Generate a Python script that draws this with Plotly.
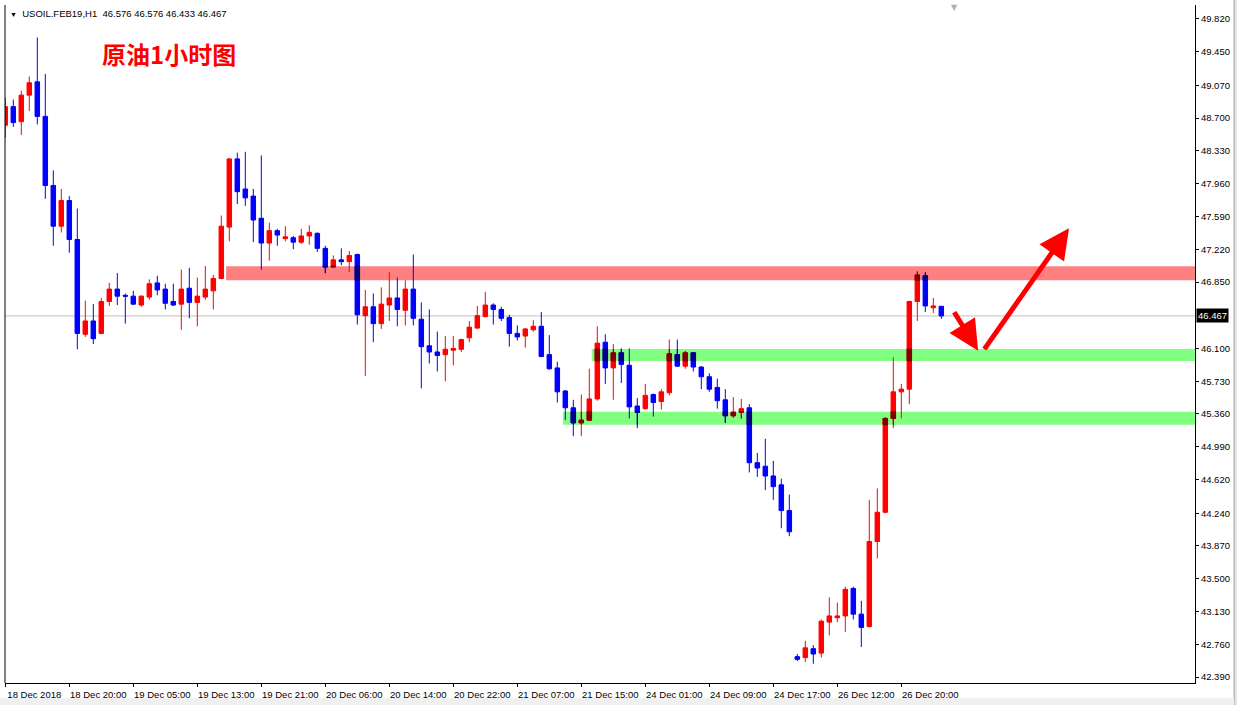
import plotly.graph_objects as go

# ---------------- data ----------------
bars = list(range(118))

opens = [48.62, 48.83, 48.66, 48.96, 49.11, 48.72, 47.94, 47.48, 47.77, 47.33,
         46.26, 46.41, 46.27, 46.63, 46.77, 46.70, 46.69, 46.59, 46.68, 46.84,
         46.77, 46.63, 46.60, 46.78, 46.62, 46.68, 46.75, 46.89, 47.47, 48.24,
         47.90, 47.82, 47.57, 47.29, 47.43, 47.34, 47.35, 47.30, 47.37, 47.40,
         47.23, 47.02, 47.10, 47.08, 47.16, 46.47, 46.57, 46.38, 46.59, 46.67,
         46.53, 46.77, 46.43, 46.13, 46.06, 46.03, 46.08, 46.09, 46.22, 46.33,
         46.46, 46.59, 46.54, 46.45, 46.27, 46.24, 46.31, 46.35, 46.03, 45.88,
         45.62, 45.43, 45.26, 45.29, 45.53, 46.17, 45.88, 46.05, 45.91, 45.45,
         45.42, 45.58, 45.50, 45.60, 46.03, 45.90, 46.05, 45.89, 45.78, 45.66,
         45.52, 45.34, 45.38, 45.43, 44.81, 44.77, 44.66, 44.56, 44.27, 42.62,
         42.61, 42.71, 42.66, 43.01, 43.06, 43.08, 43.39, 43.10, 42.96, 43.92,
         44.25, 45.31, 45.61, 45.64, 46.63, 46.92, 46.56, 46.576]

highs = [48.93, 48.91, 49.01, 49.17, 49.61, 49.20, 48.11, 47.90, 47.82, 47.68,
         46.64, 46.60, 46.67, 46.84, 46.95, 46.72, 46.75, 46.70, 46.88, 46.92,
         46.83, 46.83, 46.99, 47.01, 46.90, 47.03, 46.93, 47.60, 48.25, 48.31,
         48.32, 47.90, 48.28, 47.52, 47.45, 47.48, 47.37, 47.45, 47.49, 47.41,
         47.26, 47.15, 47.23, 47.20, 47.17, 46.76, 46.72, 46.79, 46.96, 46.90,
         46.87, 47.16, 46.62, 46.54, 46.29, 46.24, 46.24, 46.21, 46.41, 46.58,
         46.74, 46.61, 46.57, 46.48, 46.36, 46.33, 46.42, 46.51, 46.25, 45.95,
         45.63, 45.52, 45.58, 45.87, 46.35, 46.26, 46.15, 46.10, 46.10, 45.54,
         45.70, 45.59, 45.64, 46.20, 46.20, 46.07, 46.06, 45.90, 45.82, 45.76,
         45.64, 45.55, 45.53, 45.47, 44.92, 45.08, 44.83, 44.63, 44.45, 42.65,
         42.80, 42.75, 43.04, 43.29, 43.23, 43.41, 43.41, 43.25, 44.39, 44.52,
         45.32, 46.00, 45.70, 46.64, 46.97, 46.96, 46.67, 46.576]

lows = [48.48, 48.60, 48.51, 48.78, 48.63, 47.79, 47.26, 47.41, 47.18, 46.09,
        46.23, 46.15, 46.26, 46.58, 46.59, 46.38, 46.59, 46.57, 46.65, 46.70,
        46.54, 46.58, 46.31, 46.44, 46.35, 46.65, 46.54, 46.88, 47.31, 47.73,
        47.71, 47.30, 46.99, 47.09, 47.26, 47.31, 47.22, 47.28, 47.27, 47.19,
        46.95, 47.01, 47.04, 46.96, 46.37, 45.79, 46.17, 46.32, 46.41, 46.35,
        46.36, 46.36, 45.65, 45.93, 45.84, 45.73, 45.91, 46.06, 46.17, 46.32,
        46.45, 46.37, 46.41, 46.12, 46.19, 46.11, 46.29, 46.00, 45.86, 45.49,
        45.29, 45.11, 45.11, 45.28, 45.51, 45.70, 45.52, 45.71, 45.31, 45.20,
        45.41, 45.33, 45.41, 45.57, 45.89, 45.87, 45.84, 45.64, 45.61, 45.42,
        45.26, 45.32, 45.31, 44.70, 44.65, 44.50, 44.39, 44.07, 43.98, 42.57,
        42.56, 42.54, 42.61, 42.86, 43.01, 42.90, 43.04, 42.73, 42.95, 43.73,
        44.24, 45.20, 45.31, 45.47, 46.41, 46.51, 46.50, 46.433]

closes = [48.83, 48.65, 48.96, 49.10, 48.72, 47.94, 47.48, 47.77, 47.33, 46.27,
          46.41, 46.21, 46.63, 46.77, 46.69, 46.69, 46.60, 46.69, 46.83, 46.76,
          46.61, 46.59, 46.77, 46.62, 46.69, 46.77, 46.89, 47.48, 48.24, 47.87,
          47.80, 47.55, 47.29, 47.43, 47.38, 47.36, 47.30, 47.37, 47.41, 47.23,
          47.02, 47.10, 47.08, 47.15, 46.48, 46.57, 46.38, 46.60, 46.67, 46.54,
          46.77, 46.44, 46.12, 46.06, 46.02, 46.09, 46.10, 46.20, 46.34, 46.47,
          46.59, 46.54, 46.44, 46.27, 46.23, 46.32, 46.35, 46.01, 45.87, 45.61,
          45.43, 45.26, 45.29, 45.53, 46.16, 45.88, 46.05, 45.92, 45.44, 45.38,
          45.57, 45.49, 45.61, 46.04, 45.90, 46.05, 45.89, 45.78, 45.64, 45.51,
          45.34, 45.38, 45.42, 44.81, 44.75, 44.66, 44.54, 44.27, 44.03, 42.59,
          42.72, 42.65, 43.02, 43.08, 43.08, 43.38, 43.10, 42.95, 43.92, 44.25,
          45.31, 45.61, 45.64, 46.63, 46.93, 46.58, 46.58, 46.467]

x_tick_bars = [0, 8, 16, 24, 32, 40, 48, 56, 64, 72, 80, 88, 96, 104, 112]
x_tick_labels = ["18 Dec 2018", "18 Dec 20:00", "19 Dec 05:00", "19 Dec 13:00",
                 "19 Dec 21:00", "20 Dec 06:00", "20 Dec 14:00", "20 Dec 22:00",
                 "21 Dec 07:00", "21 Dec 15:00", "24 Dec 01:00", "24 Dec 09:00",
                 "24 Dec 17:00", "26 Dec 12:00", "26 Dec 20:00"]

price_ticks = [49.82, 49.45, 49.07, 48.70, 48.33, 47.96, 47.59, 47.22, 46.85,
               46.10, 45.73, 45.36, 44.99, 44.62, 44.24, 43.87, 43.50, 43.13,
               42.76, 42.39]

symbol = "USOIL.FEB19,H1"
header_ohlc = [46.576, 46.576, 46.433, 46.467]
last_price = 46.467

# zone price bands (low, high) and the bar where each starts
zone_lows = [46.871, 45.959, 45.238]
zone_highs = [47.028, 46.094, 45.385]
zone_start_bars = [27.6, 73.3, 69.7]
zone_colors = ["rgb(255,128,128)", "rgb(128,255,128)", "rgb(128,255,128)"]

title_text = "原油1小时图"

# ---------------- figure ----------------
X_MIN, X_MAX = -0.0375, 148.71
Y_MIN, Y_MAX = 42.3226, 49.9776

fig = go.Figure()

fig.add_trace(go.Candlestick(
    x=bars, open=opens, high=highs, low=lows, close=closes,
    increasing=dict(line=dict(color="#FF0000", width=1), fillcolor="#FF0000"),
    decreasing=dict(line=dict(color="#0000FF", width=1), fillcolor="#0000FF"),
    whiskerwidth=0, hoverinfo="skip", showlegend=False,
))


def zone_overlay(lo, hi, start):
    xs, o, h, l, c = [], [], [], [], []
    for i in bars:
        if i < start:
            continue
        blo, bhi = min(opens[i], closes[i]), max(opens[i], closes[i])
        a, b = max(blo, lo), min(bhi, hi)
        if a < b:
            xs.append(i)
            h.append(min(highs[i], hi))
            l.append(max(lows[i], lo))
            if closes[i] >= opens[i]:
                o.append(a); c.append(b)
            else:
                o.append(b); c.append(a)
    return xs, o, h, l, c


for lo, hi, st in zip(zone_lows, zone_highs, zone_start_bars):
    xs, o, h, l, c = zone_overlay(lo, hi, st)
    if xs:
        fig.add_trace(go.Candlestick(
            x=xs, open=o, high=h, low=l, close=c,
            increasing=dict(line=dict(color="#800000", width=1), fillcolor="#800000"),
            decreasing=dict(line=dict(color="#000080", width=1), fillcolor="#000080"),
            whiskerwidth=0, hoverinfo="skip", showlegend=False,
        ))

shapes = []
# current price line
shapes.append(dict(type="line", xref="paper", yref="y", x0=0, x1=1,
                   y0=last_price, y1=last_price,
                   line=dict(color="#C0C0C0", width=1), layer="below"))
# zones
for lo, hi, st, col in zip(zone_lows, zone_highs, zone_start_bars, zone_colors):
    shapes.append(dict(type="rect", xref="x", yref="y", x0=st, x1=X_MAX,
                       y0=lo, y1=hi, fillcolor=col, line=dict(width=0),
                       layer="below"))
# left frame line
shapes.append(dict(type="line", xref="paper", yref="paper", x0=0, x1=0,
                   y0=0, y1=1, line=dict(color="#000000", width=1)))
# window edges (grey)
shapes.append(dict(type="rect", xref="paper", yref="paper", x0=1.0328, x1=1.04,
                   y0=-0.04, y1=1.01, fillcolor="#E4E4E4",
                   line=dict(color="#A0A0A0", width=1)))
shapes.append(dict(type="rect", xref="paper", yref="paper", x0=-0.01, x1=1.0328,
                   y0=-0.04, y1=-0.0221, fillcolor="#F0F0F0",
                   line=dict(width=0)))

annotations = []
# title
annotations.append(dict(text=title_text, xref="paper", yref="paper",
                        x=0.0798, y=0.928, xanchor="left", yanchor="middle",
                        showarrow=False,
                        font=dict(family="Noto Sans CJK SC", size=24,
                                  color="#FF0000", weight=700)))
# header
header = ("<span style='font-size:7px'>▼</span>\u00a0\u00a0" + symbol + "\u00a0\u00a0"
          + " ".join(f"{v:.3f}" for v in header_ohlc))
annotations.append(dict(text=header, xref="paper", yref="paper",
                        x=0.0025, y=0.988, xanchor="left", yanchor="middle",
                        showarrow=False,
                        font=dict(family="Liberation Sans", size=9.5, color="#000000")))
# grey shift marker at the top
annotations.append(dict(text="▼", xref="paper", yref="paper", x=0.798, y=1.0,
                        xanchor="center", yanchor="top", yshift=4, showarrow=False,
                        font=dict(family="DejaVu Sans", size=8, color="#B0B0B0")))
# current price label
annotations.append(dict(text=f"{last_price:.3f}", xref="paper", yref="y",
                        x=1.0, y=last_price, xanchor="left", yanchor="middle",
                        xshift=1, showarrow=False, bgcolor="#000000", borderpad=1,
                        font=dict(family="Liberation Sans", size=9.5, color="#FFFFFF")))
# arrows
annotations.append(dict(text="", xref="x", yref="y", axref="x", ayref="y",
                        x=121.6, y=46.075, ax=118.5, ay=46.525,
                        showarrow=True, arrowhead=2, arrowsize=1.2, arrowwidth=5,
                        arrowcolor="#FF0000"))
annotations.append(dict(text="", xref="x", yref="y", axref="x", ayref="y",
                        x=132.96, y=47.456, ax=122.25, ay=46.075,
                        showarrow=True, arrowhead=2, arrowsize=1.2, arrowwidth=5,
                        arrowcolor="#FF0000"))

axis_font = dict(family="Liberation Sans", size=9.5, color="#000000")

fig.update_layout(
    width=1237, height=705, autosize=False,
    margin=dict(l=5, r=42, t=5, b=20, pad=0),
    paper_bgcolor="#FFFFFF", plot_bgcolor="#FFFFFF",
    showlegend=False,
    boxgap=0.3, boxgroupgap=0.2,
    shapes=shapes, annotations=annotations,
    xaxis=dict(range=[X_MIN, X_MAX], tickmode="array", tickvals=x_tick_bars,
               ticktext=x_tick_labels, ticks="outside", ticklen=3,
               tickcolor="#000000", showline=True, linecolor="#000000",
               linewidth=1, showgrid=False, zeroline=False,
               rangeslider=dict(visible=False), tickfont=axis_font,
               ticklabelshift=29, fixedrange=True),
    yaxis=dict(range=[Y_MIN, Y_MAX], side="right", tickmode="array",
               tickvals=price_ticks, ticktext=[f"{v:.3f}" for v in price_ticks],
               ticks="outside", ticklen=3, tickcolor="#000000", showline=True,
               linecolor="#000000", linewidth=1, showgrid=False, zeroline=False,
               tickfont=axis_font, fixedrange=True),
)

fig.write_html("out.html", config={"displayModeBar": False},
               post_script="document.body.style.margin='0px';")
